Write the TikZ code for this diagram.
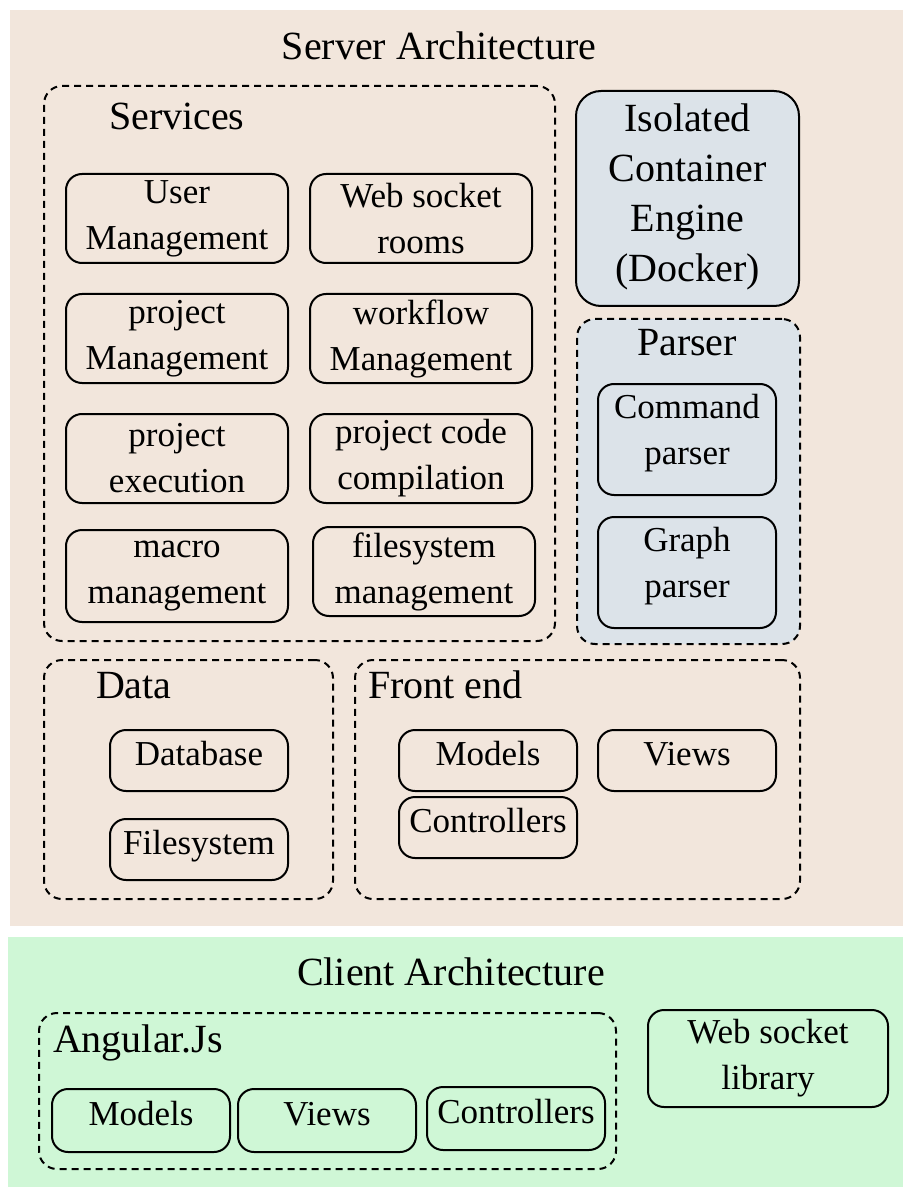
\documentclass[tikz,border=0pt]{standalone}
\usepackage{fontspec}
\setmainfont{Liberation Serif}
\usetikzlibrary{positioning}
\definecolor{serverbg}{HTML}{F2E6DC}
\definecolor{enginebg}{HTML}{DCE3E9}
\definecolor{clientbg}{HTML}{CFF7D6}

\begin{document}
\begin{tikzpicture}[x=0.5pt, y=-0.5pt, node distance=11pt and 11pt, line width=1pt]
  % Define styles
  \tikzstyle{layer} = [rectangle, anchor=north west, inner sep=0pt, draw=none]
  \tikzstyle{group} = [rectangle, rounded corners=9pt, dash pattern=on 3.5pt off 2.5pt, draw=black, anchor=north west, inner sep=0pt]
  \tikzstyle{title} = [anchor=base, inner sep=0pt, font=\fontsize{20}{25}\selectfont]
  \tikzstyle{module} = [rectangle, rounded corners=8pt, draw=black, align=center, inner sep=0pt, outer sep=0pt, minimum width=111pt, minimum height=44.5pt, font=\fontsize{17.5}{23}\selectfont]
  \tikzstyle{small} = [module, minimum width=89pt, minimum height=30.5pt, text height=12.5pt, text depth=8pt]
  \tikzstyle{parserbox} = [module, minimum width=89pt, minimum height=55.5pt, text depth=10pt]

  \useasboundingbox (0,0) rectangle (902,1187);

  % Backgrounds
  \node [layer, fill=serverbg, minimum width=446.5pt, minimum height=458pt] (server) at (9,9) {};
  \node [layer, fill=clientbg, minimum width=447.5pt, minimum height=125.5pt] (client) at (7,936) {};
  \node [title] (serverLabel) at (439,60) {Server Architecture};
  \node [title] (clientLabel) at (451,985) {Client Architecture};

  % Services
  \node [group, minimum width=255.5pt, minimum height=277.5pt] (services) at (43,85) {};
  \node [title, anchor=base west] (servicesLabel) at (108,130) {Services};
  \node [module, anchor=north west] (users) at (66,174) {User\\Management};
  \node [module, right=of users] (rooms) {Web socket\\rooms};
  \node [module, below=15.5pt of users] (projects) {project\\Management};
  \node [module, below=15.5pt of rooms] (workflows) {workflow\\Management};
  \node [module, below=15.5pt of projects] (execution) {project\\execution};
  \node [module, below=15.5pt of workflows] (compilation) {project code\\compilation};
  \node [module, below=13.5pt of execution, minimum height=46pt] (macros) {macro\\management};
  \node [module, below=12pt of compilation, xshift=1.5pt] (files) {filesystem\\management};

  % Engine and parser
  \node [module, anchor=north west, fill=enginebg, rounded corners=12.5pt, minimum width=111.5pt, minimum height=107.5pt, text depth=6pt, font=\fontsize{20}{25}\selectfont] (docker) at (576,91) {Isolated\\Container\\Engine\\(Docker)};
  \node [group, fill=enginebg, minimum width=111.5pt, minimum height=162.5pt] (parser) at (576,318) {};
  \node [title] (parserLabel) at (687,356) {Parser};
  \node [parserbox, anchor=north west] (commandParser) at (598,384) {Command\\parser};
  \node [parserbox, below=of commandParser] (graphParser) {Graph\\parser};

  % Data
  \node [group, minimum width=144.5pt, minimum height=119.5pt] (data) at (43,659) {};
  \node [title, anchor=base west] (dataLabel) at (95,698) {Data};
  \node [small, anchor=north west] (database) at (110,730) {Database};
  \node [small, below=14pt of database] (filesystem) {Filesystem};

  % Front end
  \node [group, minimum width=222.5pt, minimum height=119.5pt] (frontend) at (354,659) {};
  \node [title, anchor=base west] (frontendLabel) at (367,698) {Front end};
  \node [small, anchor=north west] (models) at (399,730) {Models};
  \node [small, right=10.5pt of models] (views) {Views};
  \node [small, below=3pt of models] (controllers) {Controllers};

  % Client side
  \node [group, minimum width=288.5pt, minimum height=78pt] (angular) at (38,1012) {};
  \node [title, anchor=base west] (angularLabel) at (52,1052) {Angular.Js};
  \node [small, anchor=north west, minimum height=31.5pt] (clientModels) at (52,1089) {Models};
  \node [small, right=4pt of clientModels, minimum height=31.5pt] (clientViews) {Views};
  \node [small, right=5.5pt of clientViews, minimum height=31.5pt, yshift=1pt] (clientControllers) {Controllers};
  \node [module, anchor=north west, minimum width=120pt, minimum height=48.5pt] (socketLib) at (648,1010) {Web socket\\library};

\end{tikzpicture}
\end{document}
